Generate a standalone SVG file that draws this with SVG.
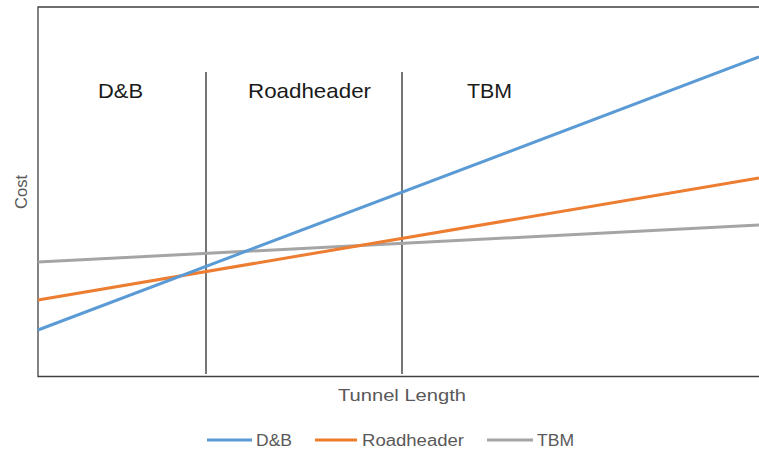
<svg xmlns="http://www.w3.org/2000/svg" width="759" height="449" viewBox="0 0 759 449">
<style>
.frame{stroke:#404040;stroke-width:1.3;fill:none}
.div{stroke:#1a1a1a;stroke-width:1.2}
.s{stroke-width:3;fill:none;stroke-linecap:butt}
.db{stroke:#5B9BD5}
.rh{stroke:#ED7D31}
.tbm{stroke:#A5A5A5}
.lbl{font-family:"Liberation Sans",Arial,sans-serif;font-size:21px;fill:#1a1a1a}
.ax{font-family:"Liberation Sans",Arial,sans-serif;font-size:17px;fill:#595959}
.lg{font-family:"Liberation Sans",Arial,sans-serif;font-size:16px;fill:#595959}
</style>
<rect width="759" height="449" fill="#ffffff"/>
<g id="axes">
<polyline class="frame" points="759,7 38,7 38,376.5 759,376.5"/>
</g>
<g id="dividers">
<line class="div" x1="206" y1="72" x2="206" y2="374"/>
<line class="div" x1="402" y1="72" x2="402" y2="374"/>
</g>
<g id="regions">
<text class="lbl" x="98" y="98" textLength="45" lengthAdjust="spacingAndGlyphs">D&amp;B</text>
<text class="lbl" x="248" y="98" textLength="123" lengthAdjust="spacingAndGlyphs">Roadheader</text>
<text class="lbl" x="467" y="98" textLength="45" lengthAdjust="spacingAndGlyphs">TBM</text>
</g>
<g id="series">
<line class="s tbm" x1="38" y1="262" x2="759" y2="225"/>
<line class="s rh" x1="38" y1="300" x2="759" y2="178"/>
<line class="s db" x1="38" y1="330" x2="759" y2="57"/>
</g>
<g id="axis-titles">
<text class="ax" x="338" y="401" textLength="128" lengthAdjust="spacingAndGlyphs">Tunnel Length</text>
<text class="ax" transform="translate(27,209) rotate(-90)" x="0" y="0" textLength="34" lengthAdjust="spacingAndGlyphs">Cost</text>
</g>
<g id="legend">
<line class="s db" x1="207" y1="440" x2="252" y2="440"/>
<text class="lg" x="256" y="446" textLength="36" lengthAdjust="spacingAndGlyphs">D&amp;B</text>
<line class="s rh" x1="315" y1="440" x2="357" y2="440"/>
<text class="lg" x="362" y="446" textLength="102" lengthAdjust="spacingAndGlyphs">Roadheader</text>
<line class="s tbm" x1="487" y1="440" x2="533" y2="440"/>
<text class="lg" x="537" y="446" textLength="37" lengthAdjust="spacingAndGlyphs">TBM</text>
</g>
</svg>
